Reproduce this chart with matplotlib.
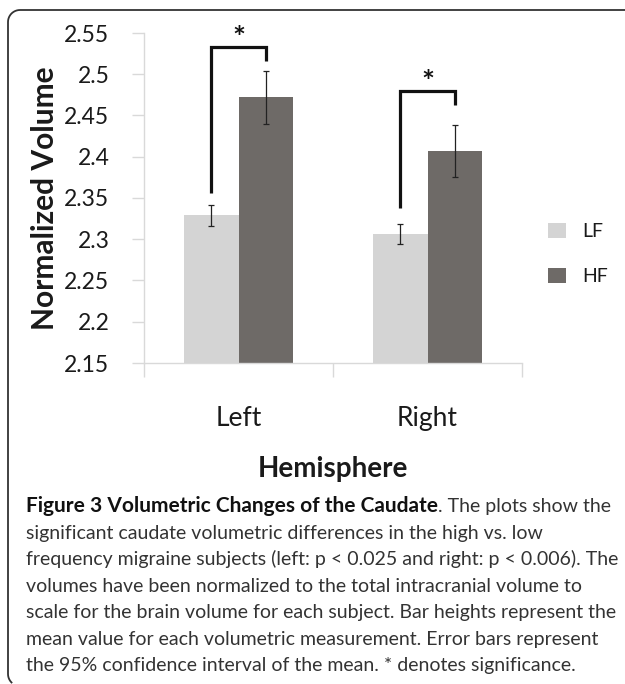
import matplotlib
matplotlib.use('Agg')

import numpy as np
import matplotlib.pyplot as plt
from matplotlib.lines import Line2D

# data
hemispheres = ['Left', 'Right']
series = ['LF', 'HF']
lf_mean = [2.329, 2.306]
hf_mean = [2.472, 2.407]
lf_err = [0.013, 0.012]
hf_err = [0.032, 0.032]
# brackets: LF leg bottom, top, HF leg bottom
sig_left = [2.356, 2.533, 2.516]
sig_right = [2.338, 2.480, 2.463]
yticks = [2.15, 2.2, 2.25, 2.3, 2.35, 2.4, 2.45, 2.5, 2.55]
ytick_labels = ['2.15', '2.2', '2.25', '2.3', '2.35', '2.4', '2.45', '2.5', '2.55']

caption_bold = 'Figure 3 Volumetric Changes of the Caudate'
caption_lines = [
    '. The plots show the',
    'significant caudate volumetric differences in the high vs. low',
    'frequency migraine subjects (left: p < 0.025 and right: p < 0.006). The',
    'volumes have been normalized to the total intracranial volume to',
    'scale for the brain volume for each subject. Bar heights represent the',
    'mean value for each volumetric measurement. Error bars represent',
    'the 95% confidence interval of the mean. * denotes significance.',
]

W, H = 625, 684
LF_COLOR = '#d4d4d4'
HF_COLOR = '#6e6a67'
AXIS_GRAY = '#d9d9d9'
TXT = '#1a1a1a'

fig = plt.figure(figsize=(W / 100, H / 100), dpi=100)
ax = fig.add_axes([144 / W, 1 - 363 / H, 378 / W, 330 / H])

x = np.arange(len(hemispheres))
w = 0.286
b1 = ax.bar(x - w / 2, lf_mean, w, color=LF_COLOR, label=series[0], zorder=2)
b2 = ax.bar(x + w / 2, hf_mean, w, color=HF_COLOR, label=series[1], zorder=2)
ax.errorbar(x - w / 2, lf_mean, yerr=lf_err, fmt='none', ecolor='#222222',
            elinewidth=0.9, capsize=2.2, capthick=0.9, zorder=3)
ax.errorbar(x + w / 2, hf_mean, yerr=hf_err, fmt='none', ecolor='#222222',
            elinewidth=0.9, capsize=2.2, capthick=0.9, zorder=3)

# significance brackets
for xi, sig in zip(x, [sig_left, sig_right]):
    ax.plot([xi - w / 2, xi - w / 2, xi + w / 2, xi + w / 2],
            [sig[0], sig[1], sig[1], sig[2]], color='#111111', lw=2.3,
            solid_capstyle='butt', solid_joinstyle='miter', zorder=4)
    ax.text(xi, sig[1] - 0.007, '*', ha='center', va='bottom', fontsize=22,
            family='Lato', fontweight='bold', color='#111111')

ax.set_xlim(-0.5, 1.5)
ax.set_ylim(2.15, 2.55)
ax.set_yticks(yticks)
ax.set_yticklabels(ytick_labels, family='Lato', fontsize=16.5, color=TXT)
ax.set_xticks(x)
ax.set_xticklabels(hemispheres, family='Lato', fontsize=19, color=TXT)
ax.set_xticks([-0.5, 0.5, 1.5], minor=True)
ax.tick_params(axis='x', which='major', length=0, pad=31)
ax.tick_params(axis='x', which='minor', length=10, width=1, color=AXIS_GRAY)
ax.tick_params(axis='y', length=9, width=1, color=AXIS_GRAY, pad=16)
for s in ['top', 'right']:
    ax.spines[s].set_visible(False)
for s in ['left', 'bottom']:
    ax.spines[s].set_color(AXIS_GRAY)
    ax.spines[s].set_linewidth(1)

ax.set_xlabel('Hemisphere', family='Lato', fontweight='bold', fontsize=20,
              color=TXT, labelpad=18)
ax.set_ylabel('Normalized Volume', family='Lato', fontweight='bold', fontsize=21.5,
              color=TXT, labelpad=4)

fig.legend(handles=[b1, b2], loc='center left',
           bbox_to_anchor=(548 / W, 1 - 254 / H), frameon=False,
           prop={'family': 'Lato', 'size': 14}, handlelength=0.93,
           handleheight=0.82, handletextpad=0.85, labelspacing=1.4,
           borderpad=0, borderaxespad=0, labelcolor=TXT)

# caption
y0 = 512
step = 26.5
renderer = fig.canvas.get_renderer()
t = fig.text(26 / W, 1 - y0 / H, caption_bold, family='Lato', size=15,
             fontweight='bold', color='#111111', va='baseline')
bb = t.get_window_extent(renderer)
fig.text(bb.x1 / W, 1 - y0 / H, caption_lines[0], family='Lato', size=14,
         color='#333333', va='baseline')
for i, line in enumerate(caption_lines[1:], start=1):
    fig.text(26 / W, 1 - (y0 + i * step) / H, line, family='Lato', size=14,
             color='#333333', va='baseline')

# rounded border (top and left)
r = 12
px = [W, 8 + r]
py = [10, 10]
ang = np.linspace(np.pi / 2, np.pi, 12)
px += list(8 + r + r * np.cos(ang))
py += list(10 + r - r * np.sin(ang))
px += [8]
py += [674]
ang2 = np.linspace(np.pi, 1.25 * np.pi, 6)
px += list(8 + r + r * np.cos(ang2))
py += list(674 - r * np.sin(ang2))
fig.add_artist(Line2D(np.array(px) / W, 1 - np.array(py) / H,
                      transform=fig.transFigure, color='#333333', lw=1.3))

fig.savefig('out.png', dpi=100)
